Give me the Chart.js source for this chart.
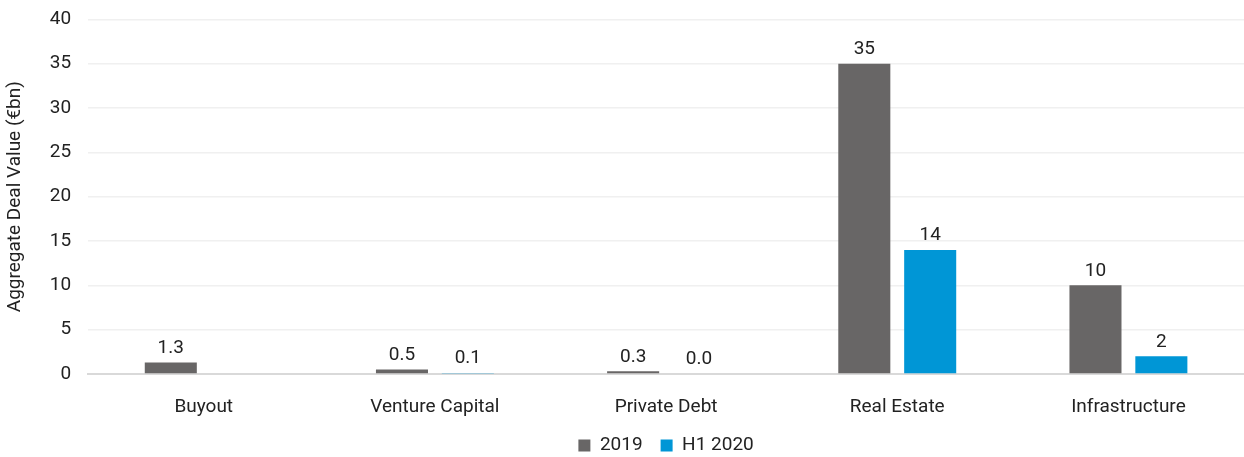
<!DOCTYPE html>
<html>
<head>
<meta charset="utf-8">
<script src="https://cdn.jsdelivr.net/npm/chart.js@4"></script>
<style>
  html, body { margin: 0; padding: 0; background: #fff; overflow: hidden; }
  #wrap { width: 1244px; height: 466px; margin-top: -9px; }
</style>
</head>
<body>
<div id="wrap"><canvas id="myChart"></canvas></div>
<script>
// chart data
const categories = ["Buyout", "Venture Capital", "Private Debt", "Real Estate", "Infrastructure"];
const values2019 = [1.3, 0.5, 0.3, 35, 10];
const valuesH12020 = [null, 0.1, 0.0, 14, 2];
const yTicks = [0, 5, 10, 15, 20, 25, 30, 35, 40];

const fontFamily = "Roboto, 'DejaVu Sans', sans-serif";

// draws the number above each bar
const valueLabels = {
    id: "valueLabels",
    afterDatasetsDraw(chart) {
        const ctx = chart.ctx;
        ctx.save();
        ctx.font = "19px " + fontFamily;
        ctx.fillStyle = "#222";
        ctx.textAlign = "center";
        ctx.textBaseline = "bottom";
        chart.data.datasets.forEach((ds, i) => {
            chart.getDatasetMeta(i).data.forEach((bar, j) => {
                const v = ds.data[j];
                if (v === null || v === undefined) return;
                const txt = v < 2 ? v.toFixed(1) : v.toFixed(0);
                ctx.fillText(txt, bar.x, bar.y - 5);
            });
        });
        ctx.restore();
    }
};

function init() {
    const canvas = document.getElementById("myChart");
    new Chart(canvas, {
        type: "bar",
        data: {
            labels: categories,
            datasets: [
                { label: "2019", data: values2019, backgroundColor: "#686666",
                  categoryPercentage: 0.57, barPercentage: 0.79 },
                { label: "H1 2020", data: valuesH12020, backgroundColor: "#0096d6",
                  categoryPercentage: 0.57, barPercentage: 0.79 }
            ]
        },
        options: {
            responsive: true,
            maintainAspectRatio: false,
            animation: false,
            layout: { padding: { top: 0, right: 0, left: 0, bottom: -8 } },
            plugins: {
                tooltip: { enabled: false },
                legend: {
                    position: "bottom",
                    fullSize: false,
                    labels: {
                        boxWidth: 12, boxHeight: 12, padding: 18,
                        color: "#222",
                        font: { family: fontFamily, size: 19 }
                    }
                }
            },
            scales: {
                x: {
                    grid: { display: false, drawTicks: false },
                    border: { color: "#d9d9d9", width: 2 },
                    ticks: { color: "#222", padding: 22, font: { family: fontFamily, size: 19 } },
                    afterFit: scale => { scale.height = 44; }
                },
                y: {
                    min: 0, max: 40,
                    afterBuildTicks: axis => { axis.ticks = yTicks.map(v => ({ value: v })); },
                    grid: { color: "#f0f0f0", lineWidth: 1.5, drawTicks: false },
                    border: { display: false },
                    ticks: { color: "#222", padding: 17, font: { family: fontFamily, size: 19 } },
                    title: { display: true, text: "Aggregate Deal Value (€bn)", color: "#222",
                             font: { family: fontFamily, size: 19 }, padding: { bottom: 6 } }
                }
            }
        },
        plugins: [valueLabels]
    });
}

document.addEventListener("DOMContentLoaded", init);
</script>
</body>
</html>
